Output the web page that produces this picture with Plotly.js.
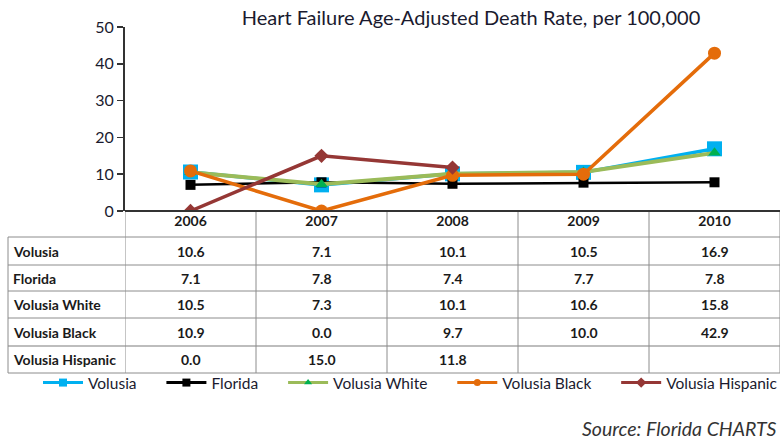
<!DOCTYPE html>
<html>
<head>
<meta charset="utf-8">
<script src="https://cdn.plot.ly/plotly-3.0.1.min.js"></script>
<style>html,body{margin:0;padding:0;background:#fff;}#chart{width:783px;height:440px;}</style>
</head>
<body>
<div id="chart"></div>
<script>
const years = ['2006', '2007', '2008', '2009', '2010'];
const seriesNames = ['Volusia', 'Florida', 'Volusia White', 'Volusia Black', 'Volusia Hispanic'];
const volusia = [10.6, 7.1, 10.1, 10.5, 16.9];
const florida = [7.1, 7.8, 7.4, 7.7, 7.8];
const volusiaWhite = [10.5, 7.3, 10.1, 10.6, 15.8];
const volusiaBlack = [10.9, 0.0, 9.7, 10.0, 42.9];
const volusiaHispanic = [0.0, 15.0, 11.8, null, null];
const yTicks = [0, 10, 20, 30, 40, 50];
const sourceText = 'Source: Florida CHARTS';
const titleText = 'Heart Failure Age-Adjusted Death Rate, per 100,000';

const FONT = 'Lato, "Open Sans", sans-serif';
const W = 783, H = 440;
const L = 125, R = 3, T = 27, B = 229;
const PW = W - L - R, PH = H - T - B;
const px = x => (x - L) / PW;      // pixel x -> paper x
const py = y => (H - B - y) / PH;  // pixel y -> paper y

const allSeries = [volusia, florida, volusiaWhite, volusiaBlack, volusiaHispanic];
const styles = [
  {line: '#00B0F0', width: 3.5, marker: {symbol: 'square', size: 15, color: '#00B0F0'}, lsize: 8},
  {line: '#000000', width: 2.5, marker: {symbol: 'square', size: 10, color: '#000000'}, lsize: 8},
  {line: '#9BBB59', width: 4, marker: {symbol: 'triangle-up', size: 11, color: '#00B050'}, lsize: 7},
  {line: '#E46C0A', width: 3.5, marker: {symbol: 'circle', size: 13, color: '#E46C0A'}, lsize: 7},
  {line: '#953735', width: 3.5, marker: {symbol: 'diamond', size: 11, color: '#953735'}, lsize: 8}
];
const xIdx = years.map((_, i) => i);

const traces = allSeries.map((vals, k) => ({
  type: 'scatter', mode: 'lines+markers', name: seriesNames[k],
  x: xIdx, y: vals, showlegend: false,
  line: {color: styles[k].line, width: styles[k].width},
  marker: Object.assign({line: {width: 0}}, styles[k].marker),
  connectgaps: false
}));
// legend entries with the small legend-sized markers (trailing spaces widen the gap between entries)
const pad = '\u00a0\u00a0\u00a0\u00a0\u00a0';
const legendTraces = seriesNames.map((name, k) => ({
  type: 'scatter', mode: 'lines+markers', name: name + (k < seriesNames.length - 1 ? pad : ''),
  x: [null], y: [null], showlegend: true, hoverinfo: 'skip',
  line: {color: styles[k].line, width: 3},
  marker: {symbol: styles[k].marker.symbol, size: styles[k].lsize, color: styles[k].marker.color, line: {width: 0}}
}));

// Table geometry (pixels)
const rowLines = [237, 265, 291, 318, 346, 373];
const shapes = [];
rowLines.forEach((y, i) => {
  shapes.push({type: 'line', xref: 'paper', yref: 'paper', x0: px(8), x1: 1, y0: py(y), y1: py(y),
    line: {color: i === 4 ? '#bdbdbd' : '#8c8c8c', width: i === 4 ? 2 : 1}});
});
for (let i = 0; i <= years.length; i++) {
  shapes.push({type: 'line', xref: 'x', yref: 'paper', x0: i - 0.5, x1: i - 0.5, y0: 0, y1: py(373),
    line: {color: '#8c8c8c', width: 1}});
}
shapes.push({type: 'line', xref: 'paper', yref: 'paper', x0: px(8), x1: px(8), y0: py(237), y1: py(373),
  line: {color: '#8c8c8c', width: 1}});
shapes.push({type: 'line', xref: 'paper', yref: 'paper', x0: 0, x1: 1, y0: 0, y1: 0,
  line: {color: '#333', width: 2}});

const annotations = [];
const fmt = v => (v === null ? '' : v.toFixed(1));
const tFont = {family: FONT, size: 14, color: '#1a1a1a'};
allSeries.forEach((vals, r) => {
  const yc = py((rowLines[r] + rowLines[r + 1]) / 2);
  annotations.push({xref: 'paper', yref: 'paper', x: px(11), y: yc, xanchor: 'left', yanchor: 'middle',
    text: '<b>' + seriesNames[r] + '</b>', showarrow: false, font: tFont});
  vals.forEach((v, c) => {
    if (v === null) return;
    annotations.push({xref: 'x', yref: 'paper', x: c, y: yc, xanchor: 'center', yanchor: 'middle',
      text: '<b>' + fmt(v) + '</b>', showarrow: false, font: tFont});
  });
});
annotations.push({xref: 'paper', yref: 'paper', x: px(779), y: py(428), xanchor: 'right', yanchor: 'middle',
  text: '<i>' + sourceText + '</i>', showarrow: false, font: {family: FONT, size: 19.5, color: '#333'}});

const layout = {
  width: W, height: H,
  margin: {l: L, r: R, t: T, b: B, pad: 0},
  paper_bgcolor: '#fff', plot_bgcolor: '#fff',
  title: {text: titleText, x: 471 / W, xanchor: 'center', y: 1 - 18 / H, yanchor: 'middle', yref: 'container',
    font: {family: FONT, size: 20, color: '#1a1a2e'}},
  showlegend: true,
  legend: {orientation: 'h', x: px(40), xanchor: 'left', y: py(383), yanchor: 'middle', itemwidth: 40,
    font: {family: FONT, size: 15.5, color: '#1a1a2e'}, bgcolor: 'rgba(0,0,0,0)', traceorder: 'normal'},
  xaxis: {
    range: [-0.5, years.length - 0.5], tickmode: 'array', tickvals: xIdx,
    ticktext: years.map(y => '<b>' + y + '</b>'),
    showgrid: false, zeroline: false, showline: false, ticks: '',
    tickfont: {family: FONT, size: 14, color: '#1a1a1a'}, fixedrange: true
  },
  yaxis: {
    range: [0, 50], tickmode: 'array', tickvals: yTicks,
    showgrid: false, zeroline: false, showline: true, linecolor: '#333', linewidth: 2,
    ticks: 'outside', ticklen: 6, tickcolor: '#333', tickwidth: 1.5,
    tickfont: {family: FONT, size: 16, color: '#1a1a2e'}, fixedrange: true
  },
  shapes: shapes,
  annotations: annotations
};

Plotly.newPlot('chart', traces.concat(legendTraces), layout, {displayModeBar: false, staticPlot: true});
</script>
</body>
</html>
